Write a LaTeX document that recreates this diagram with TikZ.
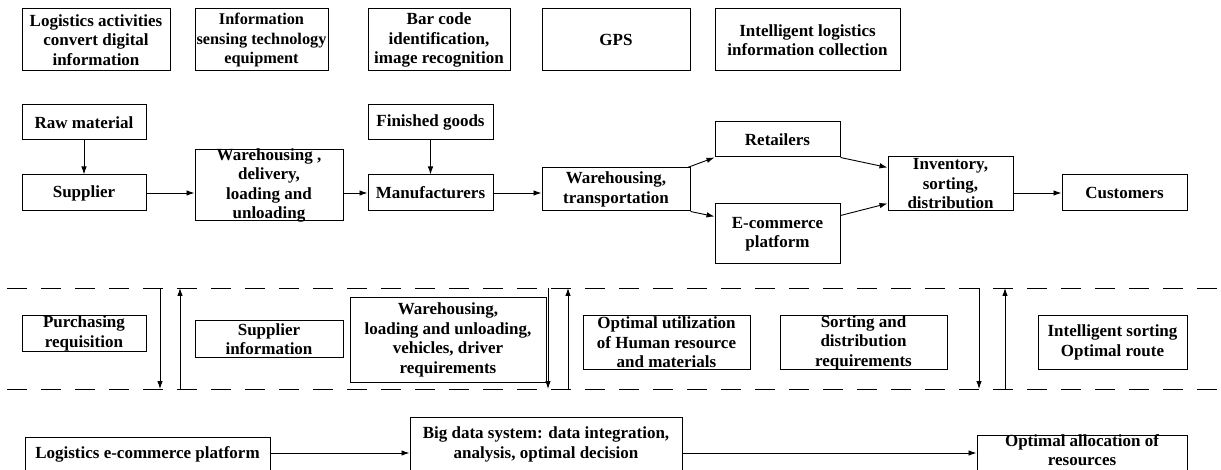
\documentclass[tikz,border=0pt]{standalone}
\usepackage{fontspec}
\setmainfont{Liberation Serif}
\usetikzlibrary{arrows.meta,calc}

\begin{document}
\begin{tikzpicture}[x=1pt,y=-1pt,>={Latex[length=8pt,width=5.5pt]},
  box/.style={draw,line width=1pt,align=center,inner sep=0pt,font=\bfseries\fontsize{17}{19.5}\selectfont},
  txt/.style={align=center,inner sep=0pt,font=\bfseries\fontsize{17}{19.5}\selectfont},
  flow/.style={->,line width=0.9pt},
  sep/.style={line width=0.9pt,dash pattern=on 20pt off 14pt}]
\useasboundingbox (0,0) rectangle (1221,470);
% information collection
\node[box,minimum width=148,minimum height=62] (act) at (96,40) {Logistics activities\\convert digital\\information};
\node[box,minimum width=133,minimum height=62] (sens) at (261.5,40) {};
\node[txt,font=\bfseries\fontsize{16.3}{19.5}\selectfont] (senstext) at (sens) {Information\\sensing technology\\equipment};
\node[box,minimum width=142,minimum height=62] (bar) at (439,40) {Bar code\\identification,\\image recognition};
\node[box,minimum width=148,minimum height=62] (gps) at (616,40) {GPS};
\node[box,minimum width=185,minimum height=62] (coll) at (807.5,40) {Intelligent logistics\\information collection};
% supply chain
\node[box,minimum width=124,minimum height=35] (raw) at (84,122.5) {Raw material};
\node[box,minimum width=124,minimum height=36] (sup) at (84,193) {Supplier};
\node[box,minimum width=148,minimum height=71] (whd) at (269,185.5) {};
\node[txt] (whdtext) at (whd) {Warehousing ,\\delivery,\\loading and\\unloading};
\node[box,minimum width=125,minimum height=35] (fin) at (430.5,122.5) {Finished goods};
\node[box,minimum width=125,minimum height=36] (man) at (430.5,193) {Manufacturers};
\node[box,minimum width=148,minimum height=43] (wtr) at (616,189.5) {Warehousing,\\transportation};
\node[box,minimum width=125,minimum height=35] (ret) at (777.5,139.5) {Retailers};
\node[box,minimum width=125,minimum height=60] (eco) at (777.5,234) {E-commerce\\platform};
\node[box,minimum width=125,minimum height=54] (inv) at (950.5,184) {Inventory,\\sorting,\\distribution};
\node[box,minimum width=125,minimum height=36] (cus) at (1124.5,193) {Customers};
\draw[flow] (raw) -- (sup);
\draw[flow] (sup.east) -- (sup.east -| whd.west);
\draw[flow] (man.west -| whd.east) -- (man.west);
\draw[flow] (fin) -- (man);
\draw[flow] (man.east) -- (man.east -| wtr.west);
\draw[flow] ([xshift=-3]wtr.north east) -- (ret.south west);
\draw[flow] (wtr.south east) -- ($(eco.north west)+(0,13)$);
\draw[flow] (ret.south east) -- ($(inv.north west)+(0,11)$);
\draw[flow] ($(eco.north east)+(0,12)$) -- ($(inv.south west)+(0,-8)$);
\draw[flow] (cus.west -| inv.east) -- (cus.west);
% requirement band
\coordinate (bandtl) at (7,288);
\coordinate (bandtr) at (1221,288);
\coordinate (bandbl) at (7,389);
\coordinate (bandbr) at (1221,389);
\draw[sep] (bandtl) -- (bandtr);
\draw[sep] (bandbl) -- (bandbr);
\foreach \d/\u [count=\i] in {160/180,548/568,979/1005}{
  \coordinate (dn\i) at (\d,288); \coordinate (up\i) at (\u,389);
  \draw[flow] (dn\i) -- (dn\i |- bandbl);
  \draw[flow] (up\i) -- (up\i |- bandtl);
}
\node[box,minimum width=124,minimum height=35] (pur) at (84,333.5) {Purchasing\\requisition};
\node[box,minimum width=148,minimum height=36] (sinf) at (269,339) {Supplier\\information};
\node[box,minimum width=196,minimum height=84] (req) at (448,340) {Warehousing,\\loading and unloading,\\vehicles, driver\\requirements};
\node[box,minimum width=167,minimum height=53] (hum) at (666.5,342.5) {Optimal utilization\\of Human resource\\and materials};
\node[box,minimum width=167,minimum height=53] (sdr) at (863.5,342.5) {Sorting and\\distribution\\requirements};
\node[box,minimum width=149,minimum height=53] (route) at (1112.5,342.5) {Intelligent sorting\\Optimal route};
% decision
\node[box,minimum width=245,minimum height=35] (plat) at (147.5,454.5) {Logistics e-commerce platform};
\node[box,minimum width=272,minimum height=55] (big) at (546,444.5) {Big data system: data integration,\\analysis, optimal decision};
\node[box,minimum width=210,minimum height=37] (alloc) at (1082,453.5) {};
\node[txt] (alloctext) at (1082,450) {Optimal allocation of\\resources};
\draw[flow] (plat.east |- 0,453) -- (big.west |- 0,453);
\draw[flow] (big.east |- 0,453) -- (alloc.west |- 0,453);
\end{tikzpicture}
\end{document}
